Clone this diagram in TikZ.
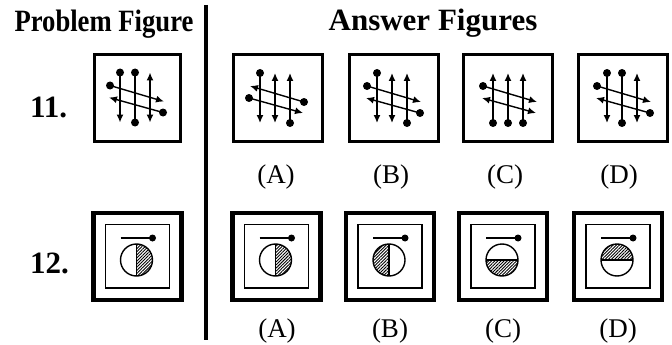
\documentclass[tikz,border=0pt]{standalone}
\usepackage{fontspec}
\setmainfont{Liberation Serif}
\usetikzlibrary{arrows.meta,patterns.meta}
\tikzset{
  seg aa/.style={{Latex[length=8pt,width=7pt]}-{Latex[length=8pt,width=7pt]}},
  seg ad/.style={{Latex[length=8pt,width=7pt]}-},
  seg da/.style={-{Latex[length=8pt,width=7pt]}},
  seg dd/.style={},
  figline/.style={line width=1.4pt},
  boxone/.style={line width=3pt},
  outerbox/.style={line width=4.2pt},
  innerbox/.style={line width=1.6pt},
  hatch/.style={pattern={Lines[angle=45,distance=2.2pt,line width=0.9pt]}},
  hdr/.style={font=\fontsize{31}{36}\selectfont\bfseries, anchor=base, inner sep=0pt},
  lbl/.style={font=\fontsize{27}{32}\selectfont, anchor=base, inner sep=0pt},
}
\newcommand\segline[3]{\draw[figline,seg #1] (#2) -- (#3);\segdots#1\relax{#2}{#3}}
\def\segdots#1#2\relax#3#4{\if d#1\fill (#3) circle[radius=4pt];\fi\if d#2\fill (#4) circle[radius=4pt];\fi}
% #1 cx, #2 cy, #3 v1, #4 v2, #5 v3, #6 upper diagonal, #7 lower diagonal
\newcommand\arrowfig[7]{%
  \begin{scope}[shift={(#1,#2)}]
    \segline{#3}{-17,-25}{-17,25}
    \segline{#4}{-2,-25}{-2,25}
    \segline{#5}{13,-25}{13,25}
    \segline{#6}{-27,-12}{27,4}
    \segline{#7}{-28,0}{26,15}
  \end{scope}}
% #1 outer box centre x, #2 #3 angles of hatched half
\newcommand\circfig[3]{%
  \begin{scope}[shift={(#1,256.5)}]
    \draw[outerbox] (-44,-43.5) rectangle (44,43.5);
    \draw[innerbox] (-32,-32) rectangle (32,31.5);
    \draw[line width=1.2pt] (-17,-18.5) -- (14,-18.5);
    \fill (15,-18.5) circle[radius=3.5pt];
    \fill[hatch] ([shift={(#2:16)}]-1,3.5) arc[start angle=#2,end angle=#3,radius=16] -- cycle;
    \draw[line width=1.8pt] ([shift={(#2:16)}]-1,3.5) -- ([shift={(#3:16)}]-1,3.5);
    \draw[line width=1.4pt] (-1,3.5) circle[radius=16];
  \end{scope}}
\begin{document}
\begin{tikzpicture}[x=1pt,y=-1pt]
\useasboundingbox (0,0) rectangle (672,345);
% headers
\node[hdr, font=\fontsize{31}{36}\selectfont\bfseries] (hp) at (104,32) {\scalebox{0.86}[1]{Problem Figure}};
\node[hdr] (ha) at (433,31) {Answer Figures};
\coordinate (rt) at (206,5);
\coordinate (rb) at (206,340);
\draw[line width=3.5pt] (rt) -- (rb);
% question numbers
\node[hdr, anchor=base west] (q11) at (30,117) {11.};
\node[hdr, anchor=base west] (q12) at (30,273) {12.};
% row 1 boxes
\draw[boxone] (94,55) rectangle (180,141);
\draw[boxone] (233,55) rectangle (322,141);
\draw[boxone] (349,55) rectangle (438,141);
\draw[boxone] (463,55) rectangle (552,141);
\draw[boxone] (578,55) rectangle (667,141);
% row 1 figures
\arrowfig{137}{97.5}{da}{dd}{aa}{da}{ad}
\arrowfig{277}{98}{da}{aa}{ad}{ad}{da}
\arrowfig{394}{98}{da}{aa}{ad}{da}{ad}
\arrowfig{510}{98}{ad}{ad}{ad}{da}{aa}
\arrowfig{624}{98}{da}{dd}{aa}{da}{ad}
% row 1 labels
\node[lbl] (a1) at (276,183) {(A)};
\node[lbl] (b1) at (391,183) {(B)};
\node[lbl] (c1) at (505,183) {(C)};
\node[lbl] (d1) at (619,183) {(D)};
% row 2 figures
\circfig{137.5}{-90}{90}
\circfig{276.5}{-90}{90}
\circfig{390}{90}{270}
\circfig{503}{0}{180}
\circfig{618}{180}{360}
% row 2 labels
\node[lbl] (a2) at (277,337) {(A)};
\node[lbl] (b2) at (390,337) {(B)};
\node[lbl] (c2) at (503,337) {(C)};
\node[lbl] (d2) at (618,337) {(D)};
\end{tikzpicture}
\end{document}
